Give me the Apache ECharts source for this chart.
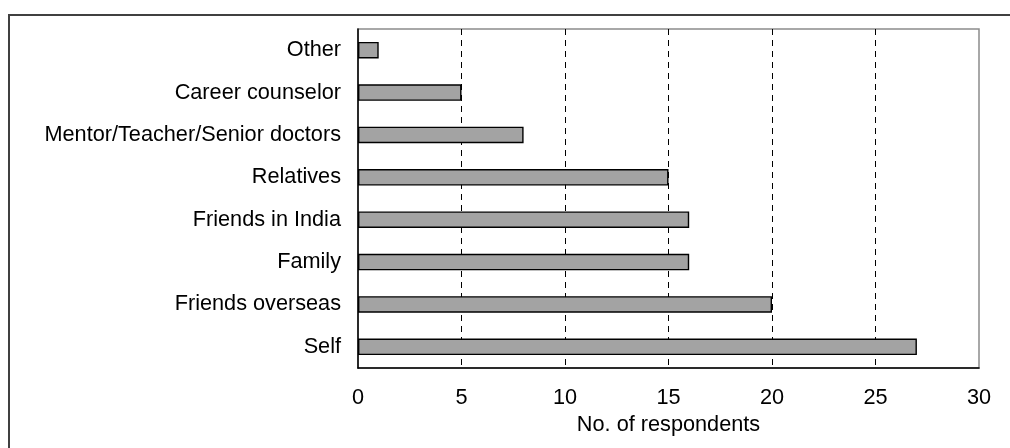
<!DOCTYPE html>
<html>
<head>
<meta charset="utf-8">
<script src="https://cdn.jsdelivr.net/npm/echarts@6/dist/echarts.min.js"></script>
<style>
html,body{margin:0;padding:0;background:#fff;}
#chart{width:1010px;height:448px;}
</style>
</head>
<body>
<div id="chart"></div>
<script>
const categories = ["Self","Friends overseas","Family","Friends in India","Relatives","Mentor/Teacher/Senior doctors","Career counselor","Other"];
const respondents = [27, 20, 16, 16, 15, 8, 5, 1];
const xAxisTitle = "No. of respondents";

const chart = echarts.init(document.getElementById('chart'));
const font = '"Liberation Sans", Arial, sans-serif';
chart.setOption({
  animation: false,
  backgroundColor: '#fff',
  graphic: [{
    type: 'rect',
    shape: {x: 9, y: 15, width: 1020, height: 460},
    style: {fill: 'none', stroke: '#404040', lineWidth: 2},
    silent: true
  }],
  grid: {
    left: 358, top: 29, right: 31, bottom: 80,
    show: true, borderColor: '#8c8c8c', borderWidth: 1.5, backgroundColor: 'transparent'
  },
  xAxis: {
    type: 'value', min: 0, max: 30, interval: 5,
    name: xAxisTitle, nameLocation: 'middle', nameGap: 45,
    nameTextStyle: {fontFamily: font, fontSize: 21.7, color: '#000'},
    axisLine: {show: true, lineStyle: {color: '#000', width: 1.5}},
    axisTick: {show: false},
    axisLabel: {fontFamily: font, fontSize: 21.7, color: '#000', margin: 19},
    splitLine: {show: true, showMinLine: false, showMaxLine: false, lineStyle: {color: '#000', type: [6, 5], width: 1}}
  },
  yAxis: {
    type: 'category', data: categories,
    axisLine: {show: true, lineStyle: {color: '#000', width: 1.5}},
    axisTick: {show: false},
    axisLabel: {fontFamily: font, fontSize: 21.7, color: '#000', margin: 17},
    splitLine: {show: false}
  },
  series: [{
    type: 'bar', data: respondents,
    barWidth: 16.5,
    itemStyle: {color: '#a3a3a3', borderColor: '#000', borderWidth: 1.4},
    z: 3
  }]
});
</script>
</body>
</html>
